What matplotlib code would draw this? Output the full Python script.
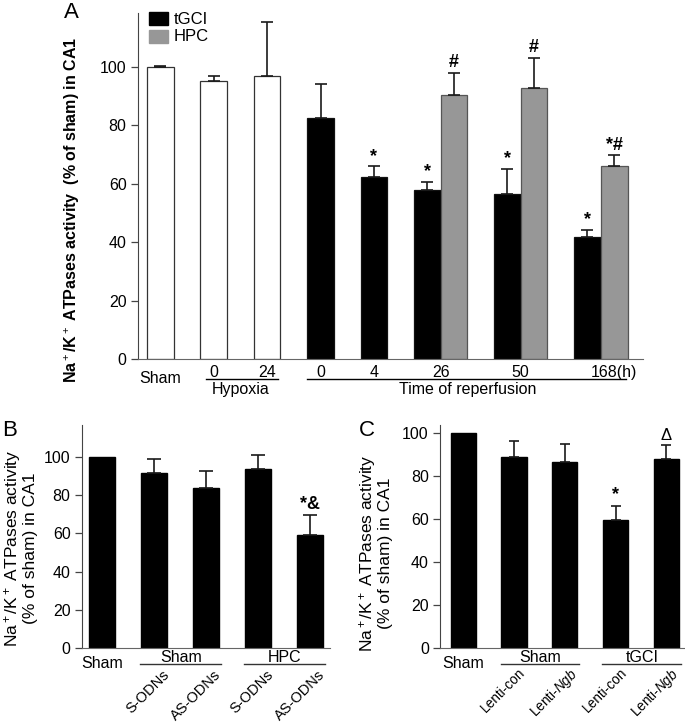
import matplotlib.pyplot as plt
import numpy as np

plt.rcParams['font.family'] = ['Liberation Sans', 'DejaVu Sans']
plt.rcParams['mathtext.fontset'] = 'custom'
plt.rcParams['mathtext.rm'] = 'Liberation Sans'
plt.rcParams['mathtext.it'] = 'Liberation Sans:italic'
plt.rcParams['mathtext.bf'] = 'Liberation Sans:bold'

# ---- panel A data ----
hyp_labels = ["Sham", "0", "24"]
hyp_vals = [100, 95.3, 96.8]
hyp_err = [0.2, 1.6, 18.4]
rep_labels = ["0", "4", "26", "50", "168(h)"]
tgci_vals = [82.6, 62.2, 57.8, 56.6, 41.9]
tgci_err = [11.6, 3.7, 2.8, 8.5, 2.4]
tgci_sig = ["", "*", "*", "*", "*"]
hpc_vals = [90.4, 92.7, 65.9]
hpc_err = [7.5, 10.4, 3.9]
hpc_sig = ["#", "#", "*#"]

# ---- panel B data ----
b_groups = ["Sham", "HPC"]
b_labels = ["S-ODNs", "AS-ODNs", "S-ODNs", "AS-ODNs"]
b_vals = [100, 91.9, 84.1, 93.7, 59.0]
b_err = [0, 7.4, 8.7, 7.5, 10.5]
b_sig = ["", "", "", "", "*&"]

# ---- panel C data ----
c_groups = ["Sham", "tGCI"]
c_labels = ["Lenti-con", "Lenti-$\\mathit{Ngb}$", "Lenti-con", "Lenti-$\\mathit{Ngb}$"]
c_vals = [100, 88.8, 86.5, 59.4, 87.9]
c_err = [0, 7.3, 8.1, 6.6, 6.1]
c_sig = ["", "", "", "*", "\u0394"]

ylab = "Na$^+$/K$^+$ ATPases activity  (% of sham) in CA1"
ylab2 = "Na$^+$/K$^+$ ATPases activity\n(% of sham) in CA1"


def style(ax, fs):
    for s in ["top", "right"]:
        ax.spines[s].set_visible(False)
    ax.spines["left"].set_color("#444444")
    ax.spines["bottom"].set_color("#666666")
    ax.tick_params(axis="x", length=0, labelbottom=False)
    ax.tick_params(axis="y", direction="out", length=5, width=0.9, color="#444444",
                   labelsize=fs, pad=3)
    ax.set_yticks(np.arange(0, 101, 20))


fig = plt.figure(figsize=(6.85, 7.24), dpi=100)

# ================= A =================
ax = fig.add_axes([0.201, 0.5041, 0.7377, 0.4779])
white_x = np.array([0, 2, 4])
tgci_x = np.array([6, 8, 10, 13, 16])
hpc_x = tgci_x[2:] + 1
ax.bar(white_x, hyp_vals, width=1, color="white", edgecolor="#333333", lw=0.9)
ax.bar(tgci_x, tgci_vals, width=1, color="black", edgecolor="#111111", lw=0.9)
ax.bar(hpc_x, hpc_vals, width=1, color="#979797", edgecolor="#555555", lw=0.9)
ekw = dict(fmt="none", ecolor="#1a1a1a", elinewidth=1.2, capsize=4.3, capthick=1.2)
ax.errorbar(white_x, hyp_vals, yerr=[np.zeros(3), hyp_err], **ekw)
ax.errorbar(tgci_x, tgci_vals, yerr=[np.zeros(5), tgci_err], **ekw)
ax.errorbar(hpc_x, hpc_vals, yerr=[np.zeros(3), hpc_err], **ekw)
for x, v, e, s in zip(tgci_x, tgci_vals, tgci_err, tgci_sig):
    ax.text(x, v + e + 0.5, s, ha="center", va="bottom", fontsize=13, fontweight="bold")
for x, v, e, s in zip(hpc_x, hpc_vals, hpc_err, hpc_sig):
    ax.text(x, v + e + 0.5, s, ha="center", va="bottom", fontsize=13, fontweight="bold")
ax.set_xlim(-0.85, 18.08)
ax.set_ylim(0, 118.4)
style(ax, 11.5)

tr = ax.get_xaxis_transform()
ax.text(white_x[0], -0.055, hyp_labels[0], transform=tr, ha="center", va="center", fontsize=11.5)
for x, l in zip(white_x[1:], hyp_labels[1:]):
    ax.text(x, -0.0376, l, transform=tr, ha="center", va="center", fontsize=11.5)
ax.plot([1.71, 4.41], [-0.0578, -0.0578], transform=tr, clip_on=False, color="black", lw=1)
ax.text(2.99, -0.0867, "Hypoxia", transform=tr, ha="center", va="center", fontsize=11.5)
rep_x = [6, 8, 10.5, 13.5, 17.0]
for x, l in zip(rep_x, rep_labels):
    ax.text(x, -0.0376, l, transform=tr, ha="center", va="center", fontsize=11.5)
ax.plot([5.5, 17.44], [-0.0578, -0.0578], transform=tr, clip_on=False, color="black", lw=1)
ax.text(11.5, -0.0867, "Time of reperfusion", transform=tr, ha="center", va="center",
        fontsize=11.5)

# legend drawn by hand
ax.add_patch(plt.Rectangle((0.023, 0.965), 0.0376, 0.039, transform=ax.transAxes,
                           color="black", clip_on=False))
ax.add_patch(plt.Rectangle((0.023, 0.912), 0.0376, 0.039, transform=ax.transAxes,
                           color="#979797", clip_on=False))
ax.text(0.0705, 0.982, "tGCI", transform=ax.transAxes, va="center", fontsize=12)
ax.text(0.0705, 0.9315, "HPC", transform=ax.transAxes, va="center", fontsize=12)

fig.text(72 / 685, 0.7106, ylab, rotation=90, ha="center", va="center",
         fontsize=11.5, fontweight="bold")
fig.text(71.5 / 685, 1 - 13 / 724, "A", ha="center", va="center", fontsize=16)


# ================= B / C =================
def small_panel(rect, vals, err, sig, groups, labels, ylim, xlim, cap, lab_fs, lab_y, lab_dx):
    ax = fig.add_axes(rect)
    x = np.arange(len(vals))
    ax.bar(x, vals, width=0.5, color="black", edgecolor="black")
    ax.errorbar(x[1:], vals[1:], yerr=[np.zeros(len(vals) - 1), err[1:]], fmt="none",
                ecolor="#1a1a1a", elinewidth=1.2, capsize=cap, capthick=1.2)
    for xi, v, e, s in zip(x, vals, err, sig):
        if s == "\u0394":
            ax.text(xi, v + e + 1.0, s, ha="center", va="bottom", fontsize=12)
        elif s:
            ax.text(xi, v + e + 1.0, s, ha="center", va="bottom", fontsize=13,
                    fontweight="bold")
    ax.set_xlim(*xlim)
    ax.set_ylim(*ylim)
    style(ax, 11.5)
    tr = ax.get_xaxis_transform()
    ax.text(0, -0.069, "Sham", transform=tr, ha="center", va="center", fontsize=11.5)
    for g, (a, b) in zip(groups, [(1, 2), (3, 4)]):
        ax.plot([a - 0.26, b + 0.29], [-0.0745, -0.0745], transform=tr, clip_on=False,
                color="#333333", lw=1)
        ax.text((a + b) / 2 + 0.02, -0.045, g, transform=tr, ha="center", va="center",
                fontsize=11.5)
    for xi, l in zip(x[1:], labels):
        ax.text(xi + lab_dx, lab_y, l, transform=tr, ha="right", va="top", rotation=45,
                rotation_mode="anchor", fontsize=lab_fs)
    return ax


small_panel([0.1193, 0.1054, 0.3625, 0.3076], b_vals, b_err, b_sig, b_groups, b_labels,
            (0, 117), (-0.39, 4.39), 5, 10.5, -0.09, 0.16)
small_panel([0.6423, 0.1054, 0.3577, 0.3076], c_vals, c_err, c_sig, c_groups, c_labels,
            (0, 103.5), (-0.46, 4.37), 3.8, 9.8, -0.08, 0.08)

fig.text(20 / 685, 1 - 548 / 724, ylab2, rotation=90, ha="center", va="center",
         multialignment="center", fontsize=12.5, linespacing=1.0)
fig.text(375 / 685, 1 - 553 / 724, ylab2, rotation=90, ha="center", va="center",
         multialignment="center", fontsize=12.5, linespacing=1.0)
fig.text(10 / 685, 1 - 430 / 724, "B", ha="center", va="center", fontsize=16)
fig.text(367 / 685, 1 - 430 / 724, "C", ha="center", va="center", fontsize=16)

fig.savefig("out.png", dpi=100, facecolor="white")
